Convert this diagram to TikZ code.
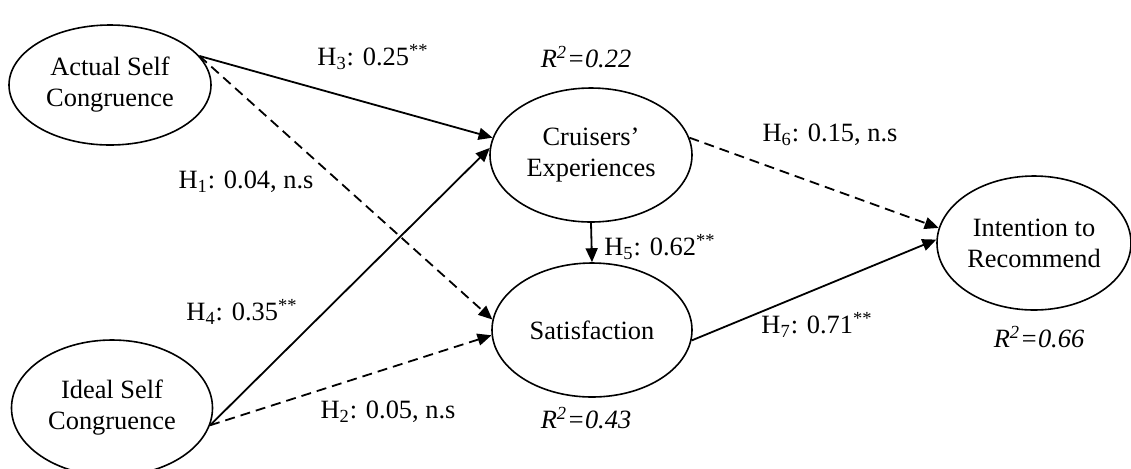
\documentclass[tikz,border=0pt]{standalone}
\usepackage{fontspec}
\setmainfont{Liberation Serif}
\usetikzlibrary{arrows.meta,positioning,shapes.geometric}
\tikzset{
  construct/.style={draw, ellipse, line width=0.8pt, inner sep=0pt, align=center, fill=white, font=\fontsize{13.2}{15.5}\selectfont},
  sig/.style={-{Triangle[length=7pt,width=6pt]}, line width=0.9pt},
  nsig/.style={sig, dash pattern=on 5pt off 3pt},
  coef/.style={inner sep=1pt, align=center, font=\fontsize{13.2}{15.5}\selectfont},
  rsq/.style={coef, font=\fontsize{13.2}{15.5}\selectfont\itshape},
}

\begin{document}
\begin{tikzpicture}[x=0.5pt, y=-0.5pt]
\useasboundingbox (0,0) rectangle (1131,468);
\clip (0,0) rectangle (1131,468);
\node[construct, minimum width=101pt, minimum height=60pt] (asc) at (110,85) {Actual Self\\Congruence};
\node[construct, minimum width=100.5pt, minimum height=68pt] (isc) at (112,408) {Ideal Self\\Congruence};
\node[construct, minimum width=101pt, minimum height=67pt] (exp) at (591,155) {Cruisers’\\Experiences};
\node[construct, minimum width=100pt, minimum height=67pt] (sat) at (592,330) {Satisfaction};
\node[construct, minimum width=97pt, minimum height=67pt] (itr) at (1034,243) {Intention to\\Recommend};
\draw[sig] (asc.18) -- (exp.170);
\draw[nsig] (asc.18) -- (sat.174);
\draw[sig] (isc.-10) -- (exp.176);
\draw[nsig] (isc.-10) -- (sat.183);
\draw[sig] (exp.south) -- (sat.north);
\draw[nsig] (exp.10) -- (itr.171);
\draw[sig] (sat.-6) -- (itr.178);
% path coefficients
\node[coef] (h3) at (373,57) {H\textsubscript{3}: 0.25\textsuperscript{**}};
\node[coef] (h1) at (246,182) {H\textsubscript{1}: 0.04, n.s};
\node[coef] (h4) at (242,312) {H\textsubscript{4}: 0.35\textsuperscript{**}};
\node[coef] (h2) at (388,412) {H\textsubscript{2}: 0.05, n.s};
\node[coef, anchor=west] (h5) at (602,247) {H\textsubscript{5}: 0.62\textsuperscript{**}};
\node[coef] (h6) at (830,135) {H\textsubscript{6}: 0.15, n.s};
\node[coef] (h7) at (817,325) {H\textsubscript{7}: 0.71\textsuperscript{**}};
% explained variance
\node[rsq] (r2exp) at (586,57) {R\textsuperscript{2}=0.22};
\node[rsq] (r2sat) at (586,418) {R\textsuperscript{2}=0.43};
\node[rsq] (r2itr) at (1039,337) {R\textsuperscript{2}=0.66};
\end{tikzpicture}
\end{document}
